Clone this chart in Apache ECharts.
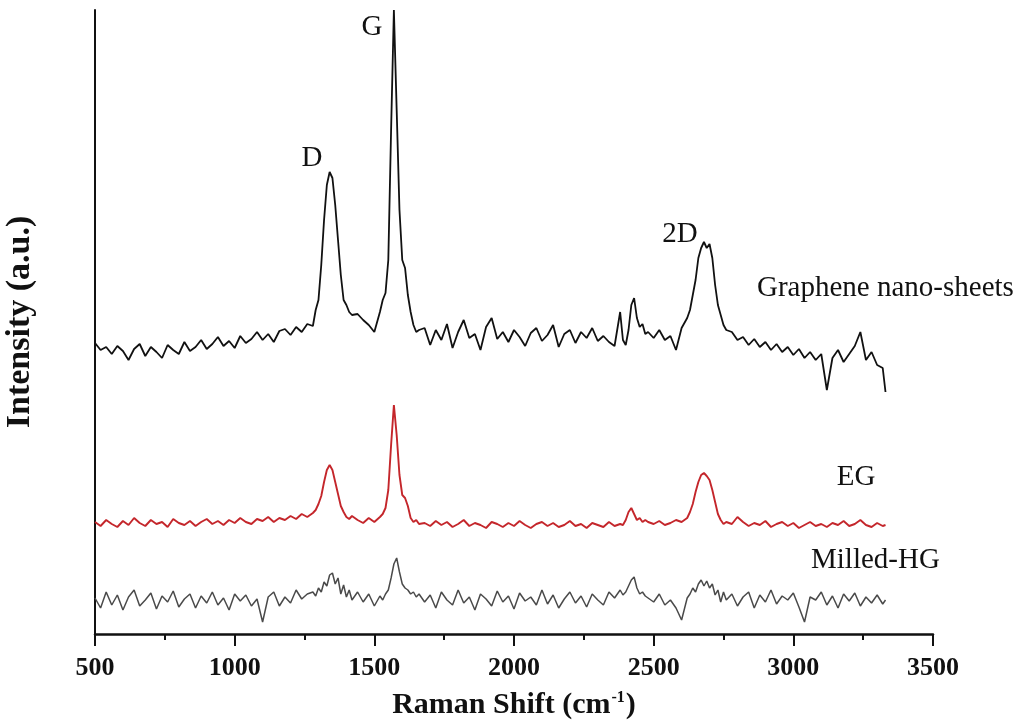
<!DOCTYPE html>
<html>
<head>
<meta charset="utf-8">
<script src="https://cdn.jsdelivr.net/npm/echarts@6/dist/echarts.min.js"></script>
<style>
  html, body { margin: 0; padding: 0; background: #fff; }
  #chart { width: 1028px; height: 725px; }
</style>
</head>
<body>
<div id="chart"></div>
<script>
const FONT = "'Liberation Serif', 'Times New Roman', serif";

// Raman shift (cm-1), denser around the peaks
const ramanShift = [
  500, 520, 540, 560, 580, 600, 620, 640, 660, 680, 700, 720, 740, 760, 780, 800, 820, 840, 860, 880,
  900, 920, 940, 960, 980, 1000, 1020, 1040, 1060, 1080, 1100, 1120, 1140, 1160, 1180, 1200, 1220, 1240, 1260, 1280,
  1290, 1300, 1310, 1320, 1330, 1340, 1350, 1360, 1370, 1380, 1390, 1400, 1410, 1420,
  1440, 1460, 1480, 1500, 1520,
  1530, 1540, 1550, 1560, 1570, 1580, 1590, 1600, 1610, 1620, 1630, 1640, 1650, 1660,
  1680, 1700, 1720, 1740, 1760, 1780, 1800, 1820, 1840, 1860, 1880, 1900, 1920, 1940, 1960, 1980, 2000, 2020,
  2040, 2060, 2080, 2100, 2120, 2140, 2160, 2180, 2200, 2220, 2240, 2260, 2280, 2300, 2320, 2340, 2360, 2380,
  2390, 2400, 2410, 2420, 2430, 2440, 2450, 2460, 2470,
  2480, 2500, 2520, 2540, 2560, 2580, 2600, 2620,
  2630, 2640, 2650, 2660, 2670, 2680, 2690, 2700, 2710, 2720, 2730, 2740, 2750, 2760,
  2780, 2800, 2820, 2840, 2860, 2880, 2900, 2920, 2940, 2960, 2980, 3000, 3020, 3040,
  3060, 3080, 3100, 3120, 3140, 3160, 3180, 3200, 3220, 3240, 3260, 3280, 3300, 3320,
  3330
];

// intensities (a.u., stacked offsets as drawn)
const graphene = [
  287, 280, 283, 276, 284, 279, 270, 281, 286, 274, 283, 278, 272, 285, 280, 276, 288, 279, 283, 290,
  281, 286, 293, 284, 289, 282, 294, 287, 291, 298, 290, 296, 288, 299, 301, 295, 303, 298, 306, 304,
  320, 330, 365, 410, 445, 458, 452, 425, 390, 355, 330, 325, 318, 315,
  316, 310, 305, 298, 318,
  330, 337, 370, 500, 620, 520, 420, 370, 362, 335, 318, 305, 298, 300,
  302, 285, 300, 290, 306, 282, 298, 310, 292, 296, 280, 303, 312, 291, 298, 288, 300, 293,
  284, 297, 302, 289, 295, 305, 283, 296, 300, 287, 298, 292, 302, 289, 294, 288, 284, 318,
  290, 285, 300, 325, 332, 312, 303, 306, 296,
  298, 292, 300, 290, 294, 280, 302, 312,
  320, 335, 350, 372, 382, 388, 382, 386, 372, 345, 325, 315, 305, 300,
  298, 290, 293, 285, 291, 283, 288, 280, 286, 278, 283, 275, 281, 272,
  278, 270, 276, 240, 272, 280, 268, 276, 284, 298, 270, 278, 265, 262,
  238
];

const eg = [
  108, 104, 110, 106, 103, 109, 105, 112, 107, 104, 110, 106, 108, 103, 111, 107, 105, 109, 104, 108,
  111, 106, 109, 105, 110, 107, 112, 108, 106, 111, 109, 113, 108, 112, 110, 114, 111, 116, 113, 117,
  120, 126, 134, 148, 160, 165, 160, 148, 136, 124, 118, 113, 111, 114,
  110, 107, 112, 108, 113,
  116, 122, 140, 185, 225, 195, 155, 135, 132, 124, 112, 108, 110, 106,
  107, 104, 109, 105, 108, 103, 106, 110, 104, 107, 105, 102, 108, 106, 103, 107, 104, 109,
  105, 102, 106, 108, 104, 107, 103, 105, 109, 104, 106, 102, 107, 105, 103, 108, 104, 106,
  105, 110, 118, 122, 116, 110, 112, 108, 110,
  108, 106, 109, 105, 107, 110, 108, 112,
  118, 126, 138, 148, 155, 157, 154, 150, 140, 128, 116, 110, 106, 108,
  106, 113, 108, 104, 107, 105, 109, 103, 106, 108, 104, 107, 102, 105,
  108, 104, 106, 103, 107, 105, 109, 104, 106, 110, 105, 103, 107, 104,
  105
];

const milledHG = [
  32, 22, 38, 25, 35, 20, 33, 40, 24, 30, 37, 21, 34, 28, 39, 23, 31, 36, 22, 34,
  27, 38, 25, 32, 20, 36, 29, 35, 24, 31, 8, 33, 38, 24, 33, 27, 40, 31, 36, 38,
  34, 42, 38, 48, 44, 55, 57, 46, 52, 36, 45, 33, 40, 30,
  38, 28, 36, 24, 34,
  30, 36, 40, 52, 66, 72, 58, 46, 42, 40, 36, 38, 33, 36,
  28, 35, 22, 38, 30, 25, 40, 27, 33, 20, 36, 31, 24, 39, 28, 34, 21, 37,
  29, 33, 25, 40, 26, 35, 22, 31, 38, 27, 34, 23, 36, 30, 25, 38, 32, 40,
  35, 38, 44, 50, 53, 42, 36, 38, 34,
  32, 28, 36, 25, 30, 22, 10, 32,
  36, 42, 38, 46, 50, 44, 49, 42, 46, 35, 40, 28, 38, 30,
  36, 24, 33, 38, 22, 35, 28, 40, 26, 34, 30, 37, 23, 8,
  33, 30, 38, 25, 34, 22, 36, 29, 37, 24, 33, 27, 35, 26,
  30
];

const zip = (ys) => ramanShift.map((x, i) => [x, ys[i]]);

function lineSeries(name, values, color, width) {
  return {
    name,
    type: 'line',
    data: zip(values),
    symbol: 'none',
    smooth: false,
    clip: false,
    lineStyle: { color, width },
    emphasis: { disabled: true },
  };
}

function label(text, x, y, align) {
  return {
    type: 'text',
    x,
    y,
    style: {
      text,
      font: `29px ${FONT}`,
      fill: '#111',
      align: align || 'center',
      verticalAlign: 'middle',
    },
  };
}

const chart = echarts.init(document.getElementById('chart'));

chart.setOption({
  animation: false,
  backgroundColor: '#fff',
  grid: { left: 95, right: 95, top: 10, bottom: 91, outerBoundsMode: 'none' },
  xAxis: {
    type: 'value',
    min: 500,
    max: 3500,
    interval: 500,
    name: '{t|Raman Shift (cm}{s|-1}{t|)}',
    nameLocation: 'middle',
    nameGap: 56,
    nameTextStyle: {
      rich: {
        t: { fontFamily: FONT, fontSize: 30, fontWeight: 'bold', color: '#111' },
        s: { fontFamily: FONT, fontSize: 16, fontWeight: 'bold', color: '#111', verticalAlign: 'top', padding: [0, 1, 0, 1] },
      },
    },
    axisLine: { show: true, onZero: false, lineStyle: { color: '#111', width: 2.5 } },
    axisTick: { show: true, length: 12, lineStyle: { color: '#111', width: 2 } },
    minorTick: { show: true, splitNumber: 2, length: 6, lineStyle: { color: '#111', width: 2 } },
    splitLine: { show: false },
    axisLabel: {
      margin: 21,
      fontFamily: FONT,
      fontSize: 26,
      fontWeight: 'bold',
      color: '#111',
      formatter: (v) => String(v),
    },
  },
  yAxis: {
    type: 'value',
    min: -4,
    max: 620,
    name: 'Intensity (a.u.)',
    nameLocation: 'middle',
    nameRotate: 90,
    nameGap: 58,
    nameTextStyle: { fontFamily: FONT, fontSize: 34, fontWeight: 'bold', color: '#111' },
    axisLine: { show: true, onZero: false, lineStyle: { color: '#111', width: 2 } },
    axisTick: { show: false },
    axisLabel: { show: false },
    splitLine: { show: false },
  },
  series: [
    lineSeries('Graphene nano-sheets', graphene, '#111111', 1.8),
    lineSeries('EG', eg, '#c4262b', 1.9),
    lineSeries('Milled-HG', milledHG, '#4a4a4a', 1.5),
  ],
  graphic: [
    label('D', 312, 158),
    label('G', 372, 27),
    label('2D', 680, 234),
    label('Graphene nano-sheets', 757, 288, 'left'),
    label('EG', 856, 477),
    label('Milled-HG', 811, 560, 'left'),
  ],
});

window.addEventListener('resize', () => chart.resize());
</script>
</body>
</html>
